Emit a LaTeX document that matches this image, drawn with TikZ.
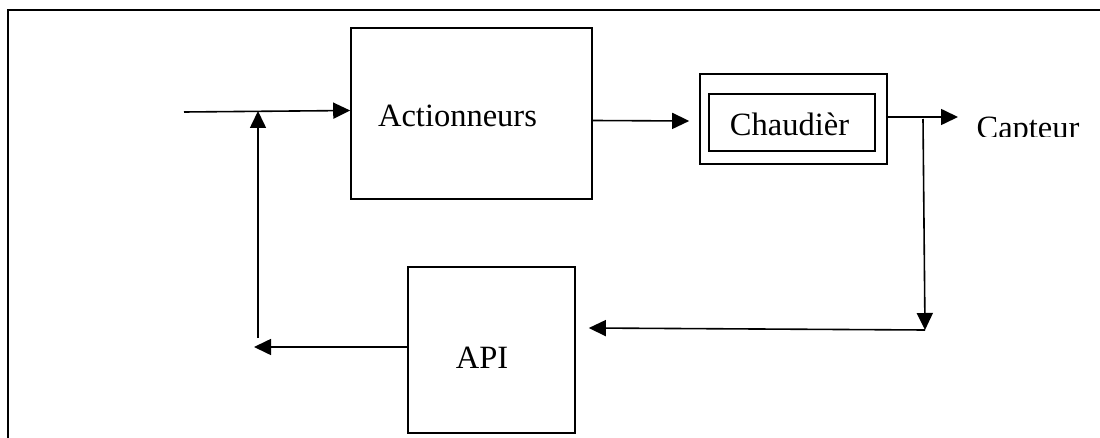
\documentclass[tikz,border=0pt]{standalone}
\usepackage{fontspec}
\setmainfont{Liberation Serif}
\usetikzlibrary{arrows.meta}
\begin{document}
\begin{tikzpicture}[x=1pt,y=-1pt,
  box/.style={draw,line width=1.6pt,inner sep=0pt},
  lbl/.style={anchor=base,inner sep=0pt,font=\fontsize{32.5}{38}\selectfont},
  link/.style={line width=1.6pt},
  arr/.style={link,-{Triangle[length=17pt,width=16pt]}}]
\useasboundingbox (0,0) rectangle (1100,438);

% open frame (top and left edges)
\draw[line width=2pt] (8,438) -- (8,10) -- (1100,10);

% blocks
\node[box,minimum width=241pt,minimum height=171pt] (act) at (471.5,113.5) {};
\node[lbl] (actlbl) at (457.5,127) {Actionneurs};

\node[box,minimum width=187pt,minimum height=90pt] (chout) at (793.5,119) {};
\node[box,minimum width=166pt,minimum height=57pt] (chin) at (792,122.5) {};
\node[lbl] (chlbl) at (789.5,136) {Chaudièr};

\node[box,minimum width=167pt,minimum height=166pt] (api) at (491.5,350) {};
\node[lbl] (apilbl) at (482,368) {API};

% sensor label, cut off just above its baseline
\begin{scope}
  \clip (960,100) rectangle (1100,136.5);
  \node[lbl] (cap) at (1028,138.5) {Capteur};
\end{scope}

% connection points
\coordinate (in) at (184,112);
\coordinate (j1) at (258,111);
\coordinate (fbtop) at (258,338);
\coordinate (capin) at (958,117);
\coordinate (s1) at (923,119);
\coordinate (s2) at (925,330);
\coordinate (apiout) at (254,347);

% forward path
\draw[arr] (in) -- ([yshift=3pt]act.west);
\draw[arr] ([yshift=-7pt]act.east) -- ([xshift=-10pt,yshift=-2pt]chout.west);
\draw[arr] ([xshift=-2pt,yshift=2pt]chout.east) -- (capin);

% feedback path
\draw[arr] (s1) -- (s2);
\draw[arr] (s2) -- ([xshift=13pt,yshift=22pt]api.east);
\draw[arr] ([yshift=3pt]api.west) -- (apiout);
\draw[arr] (fbtop) -- (j1);
\end{tikzpicture}
\end{document}
